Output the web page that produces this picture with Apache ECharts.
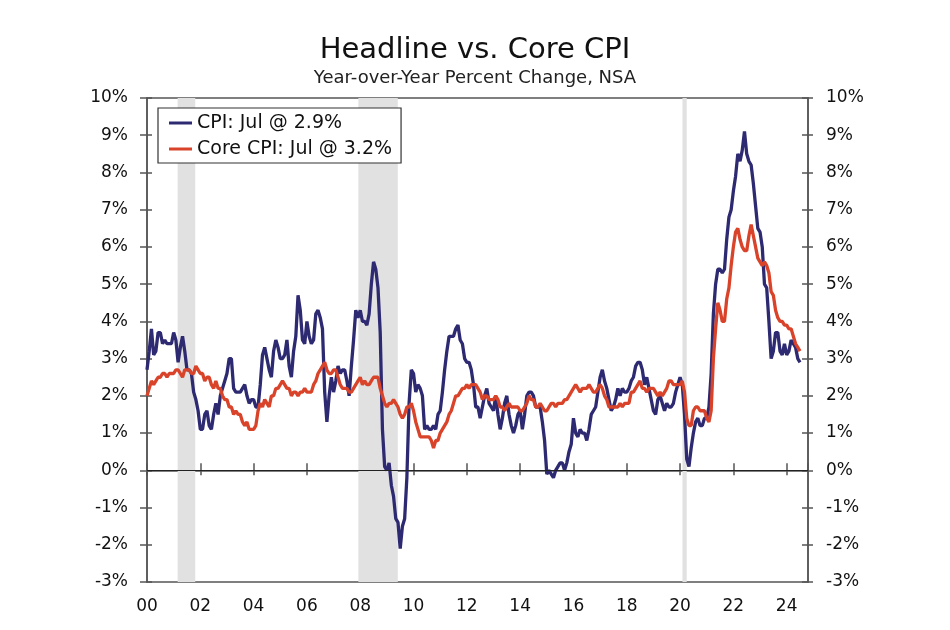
<!DOCTYPE html>
<html><head><meta charset="utf-8">
<script src="https://cdn.jsdelivr.net/npm/echarts@6/dist/echarts.min.js"></script>
<style>html,body{margin:0;padding:0;background:#fff}#c{width:950px;height:630px}</style>
</head><body><div id="c"></div>
<script>
const chartTitle = 'Headline vs. Core CPI';
const chartSubtitle = 'Year-over-Year Percent Change, NSA';
const startYear = 2000;
const cpiName = 'CPI: Jul @ 2.9%';
const coreName = 'Core CPI: Jul @ 3.2%';
// Monthly, Jan 2000 .. Jul 2024
const cpiValues = [
 2.7,3.2,3.8,3.1,3.2,3.7,3.7,3.4,3.5,3.4,3.4,3.4,
 3.7,3.5,2.9,3.3,3.6,3.2,2.7,2.7,2.6,2.1,1.9,1.6,
 1.1,1.1,1.5,1.6,1.2,1.1,1.5,1.8,1.5,2.0,2.2,2.4,
 2.6,3.0,3.0,2.2,2.1,2.1,2.1,2.2,2.3,2.0,1.8,1.9,
 1.9,1.7,1.7,2.3,3.1,3.3,3.0,2.7,2.5,3.2,3.5,3.3,
 3.0,3.0,3.1,3.5,2.8,2.5,3.2,3.6,4.7,4.3,3.5,3.4,
 4.0,3.6,3.4,3.5,4.2,4.3,4.1,3.8,2.1,1.3,2.0,2.5,
 2.1,2.4,2.8,2.6,2.7,2.7,2.4,2.0,2.8,3.5,4.3,4.1,
 4.3,4.0,4.0,3.9,4.2,5.0,5.6,5.4,4.9,3.7,1.1,0.1,
 0.0,0.2,-0.4,-0.7,-1.3,-1.4,-2.1,-1.5,-1.3,-0.2,1.8,2.7,
 2.6,2.1,2.3,2.2,2.0,1.1,1.2,1.1,1.1,1.2,1.1,1.5,
 1.6,2.1,2.7,3.2,3.6,3.6,3.6,3.8,3.9,3.5,3.4,3.0,
 2.9,2.9,2.7,2.3,1.7,1.7,1.4,1.7,2.0,2.2,1.8,1.7,
 1.6,2.0,1.5,1.1,1.4,1.8,2.0,1.5,1.2,1.0,1.2,1.5,
 1.6,1.1,1.5,2.0,2.1,2.1,2.0,1.7,1.7,1.7,1.3,0.8,
 -0.1,0.0,-0.1,-0.2,0.0,0.1,0.2,0.2,0.0,0.2,0.5,0.7,
 1.4,1.0,0.9,1.1,1.0,1.0,0.8,1.1,1.5,1.6,1.7,2.1,
 2.5,2.7,2.4,2.2,1.9,1.6,1.7,1.9,2.2,2.0,2.2,2.1,
 2.1,2.2,2.4,2.5,2.8,2.9,2.9,2.7,2.3,2.5,2.2,1.9,
 1.6,1.5,1.9,2.0,1.8,1.6,1.8,1.7,1.7,1.8,2.1,2.3,
 2.5,2.3,1.5,0.3,0.1,0.6,1.0,1.3,1.4,1.2,1.2,1.4,
 1.4,1.7,2.6,4.2,5.0,5.4,5.4,5.3,5.4,6.2,6.8,7.0,
 7.5,7.9,8.5,8.3,8.6,9.1,8.5,8.3,8.2,7.7,7.1,6.5,
 6.4,6.0,5.0,4.9,4.0,3.0,3.2,3.7,3.7,3.2,3.1,3.4,
 3.1,3.2,3.5,3.4,3.3,3.0,2.9
];
const coreValues = [
 2.0,2.2,2.4,2.3,2.4,2.5,2.5,2.6,2.6,2.5,2.6,2.6,
 2.6,2.7,2.7,2.6,2.5,2.7,2.7,2.7,2.6,2.6,2.8,2.7,
 2.6,2.6,2.4,2.5,2.5,2.3,2.2,2.4,2.2,2.2,2.0,1.9,
 1.9,1.7,1.7,1.5,1.6,1.5,1.5,1.3,1.2,1.3,1.1,1.1,
 1.1,1.2,1.6,1.8,1.7,1.9,1.8,1.7,2.0,2.0,2.2,2.2,
 2.3,2.4,2.3,2.2,2.2,2.0,2.1,2.1,2.0,2.1,2.1,2.2,
 2.1,2.1,2.1,2.3,2.4,2.6,2.7,2.8,2.9,2.7,2.6,2.6,
 2.7,2.7,2.5,2.3,2.2,2.2,2.2,2.1,2.1,2.2,2.3,2.4,
 2.5,2.3,2.4,2.3,2.3,2.4,2.5,2.5,2.5,2.2,2.0,1.8,
 1.7,1.8,1.8,1.9,1.8,1.7,1.5,1.4,1.5,1.7,1.7,1.8,
 1.6,1.3,1.1,0.9,0.9,0.9,0.9,0.9,0.8,0.6,0.8,0.8,
 1.0,1.1,1.2,1.3,1.5,1.6,1.8,2.0,2.0,2.1,2.2,2.2,
 2.3,2.2,2.3,2.3,2.3,2.2,2.1,1.9,2.0,2.0,1.9,1.9,
 1.9,2.0,1.9,1.7,1.7,1.6,1.7,1.8,1.7,1.7,1.7,1.7,
 1.6,1.6,1.7,1.8,2.0,1.9,1.9,1.7,1.7,1.8,1.7,1.6,
 1.6,1.7,1.8,1.8,1.7,1.8,1.8,1.8,1.9,1.9,2.0,2.1,
 2.2,2.3,2.2,2.1,2.2,2.2,2.2,2.3,2.2,2.1,2.1,2.2,
 2.3,2.2,2.0,1.9,1.7,1.7,1.7,1.7,1.7,1.8,1.7,1.8,
 1.8,1.8,2.1,2.1,2.2,2.3,2.4,2.2,2.2,2.1,2.2,2.2,
 2.2,2.1,2.0,2.1,2.0,2.1,2.2,2.4,2.4,2.3,2.3,2.3,
 2.3,2.4,2.1,1.4,1.2,1.2,1.6,1.7,1.7,1.6,1.6,1.6,
 1.4,1.3,1.6,3.0,3.8,4.5,4.3,4.0,4.0,4.6,4.9,5.5,
 6.0,6.4,6.5,6.2,6.0,5.9,5.9,6.3,6.6,6.3,6.0,5.7,
 5.6,5.5,5.6,5.5,5.3,4.8,4.7,4.3,4.1,4.0,4.0,3.9,
 3.9,3.8,3.8,3.6,3.4,3.3,3.2
];
// Recession periods (fractional years)
const recessions = [[2001.15, 2001.81], [2007.93, 2009.41], [2020.09, 2020.25]];
const xMin = 2000, xMax = 2024.8, xStep = 2;
const yMin = -3, yMax = 10, yStep = 1;

const toPoints = arr => arr.map((v, i) => [startYear + i / 12, v]);
const FONT = 'DejaVu Sans';
const AX = '#555';
const axisLabelFmtY = v => v + '%';
const axisLabelFmtX = v => (Math.abs(v % 2) < 1e-9) ? String(v % 100).padStart(2, '0') : '';

const chart = echarts.init(document.getElementById('c'), null, {renderer: 'canvas'});
chart.setOption({
  animation: false,
  backgroundColor: '#fff',
  title: [
    {text: chartTitle, left: 'center', top: 31, textStyle: {fontFamily: FONT, fontSize: 29, fontWeight: 'normal', color: '#111'}},
    {text: chartSubtitle, left: 'center', top: 64, textStyle: {fontFamily: FONT, fontSize: 18, fontWeight: 'normal', color: '#222'}}
  ],
  legend: {
    orient: 'vertical', left: 158, top: 108,
    padding: [5, 9, 4, 11], itemGap: 6,
    borderColor: '#333', borderWidth: 1.2, backgroundColor: '#fff',
    itemWidth: 23, itemHeight: 3, icon: 'rect',
    textStyle: {fontFamily: FONT, fontSize: 19, color: '#111', lineHeight: 20},
    data: [cpiName, coreName]
  },
  grid: {left: 147, right: 142, top: 98, bottom: 48, show: true, borderColor: AX, borderWidth: 1.5, containLabel: false},
  xAxis: [
    {type: 'value', min: xMin, max: xMax, interval: xStep, position: 'bottom',
     axisLine: {show: true, lineStyle: {color: AX, width: 1.5}},
     axisTick: {show: true, inside: false, length: 5, lineStyle: {color: AX, width: 1.5}},
     axisLabel: {formatter: axisLabelFmtX, margin: 16, fontFamily: FONT, fontSize: 17, color: '#111', showMaxLabel: false},
     splitLine: {show: false}},
    {type: 'value', min: xMin, max: xMax, interval: xStep, position: 'bottom',
     axisLine: {show: false},
     axisTick: {show: true, inside: true, length: 7, lineStyle: {color: AX, width: 1.5}},
     axisLabel: {show: false}, splitLine: {show: false}}
  ],
  yAxis: [
    {type: 'value', min: yMin, max: yMax, interval: yStep, position: 'left',
     axisLine: {show: true, lineStyle: {color: AX, width: 1.5}},
     axisTick: {show: true, inside: false, length: 7, lineStyle: {color: AX, width: 1.5}},
     axisLabel: {formatter: axisLabelFmtY, margin: 19, fontFamily: FONT, fontSize: 17, color: '#111'},
     splitLine: {show: false}},
    {type: 'value', min: yMin, max: yMax, interval: yStep, position: 'left',
     axisLine: {show: false},
     axisTick: {show: true, inside: true, length: 5, lineStyle: {color: AX, width: 1.5}},
     axisLabel: {show: false}, splitLine: {show: false}},
    {type: 'value', min: yMin, max: yMax, interval: yStep, position: 'right',
     axisLine: {show: true, lineStyle: {color: AX, width: 1.5}},
     axisTick: {show: true, inside: false, length: 5, lineStyle: {color: AX, width: 1.5}},
     axisLabel: {formatter: axisLabelFmtY, margin: 18, fontFamily: FONT, fontSize: 17, color: '#111'},
     splitLine: {show: false}},
    {type: 'value', min: yMin, max: yMax, interval: yStep, position: 'right',
     axisLine: {show: false},
     axisTick: {show: true, inside: true, length: 6, lineStyle: {color: AX, width: 1.5}},
     axisLabel: {show: false}, splitLine: {show: false}}
  ],
  series: [
    {name: cpiName, type: 'line', data: toPoints(cpiValues), xAxisIndex: 0, yAxisIndex: 0,
     showSymbol: false, symbol: 'none', color: '#2e2a72', lineStyle: {width: 3.3, color: '#2e2a72'}, z: 3,
     markArea: {silent: true, itemStyle: {color: '#e1e1e1'},
       data: recessions.map(r => [{xAxis: r[0]}, {xAxis: r[1]}])}},
    {name: coreName, type: 'line', data: toPoints(coreValues), xAxisIndex: 0, yAxisIndex: 0,
     showSymbol: false, symbol: 'none', color: '#d9432a', lineStyle: {width: 3.3, color: '#d9432a'}, z: 4,
     markLine: {silent: true, symbol: 'none', label: {show: false},
       lineStyle: {color: '#222', width: 1, type: 'solid'}, data: [{yAxis: 0}]}}
  ]
});
</script></body></html>
